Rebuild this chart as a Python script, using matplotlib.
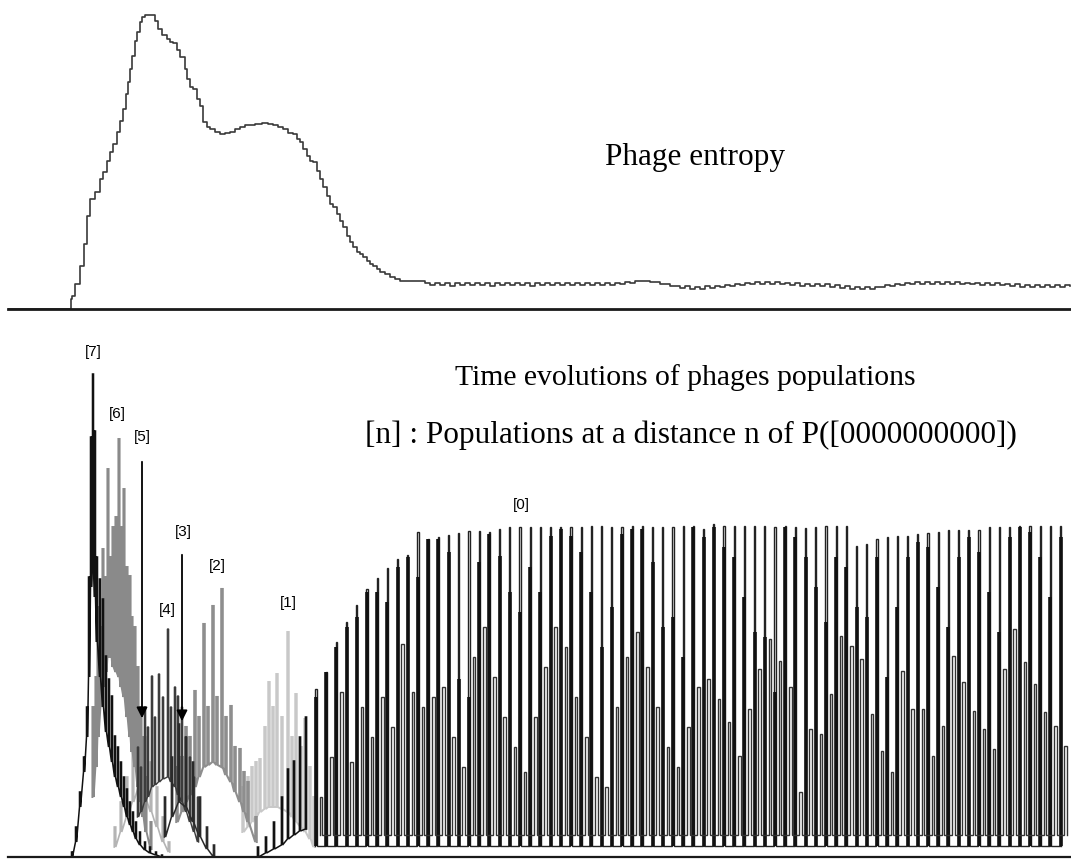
import numpy as np
import matplotlib.pyplot as plt

# ---- top panel : phage entropy (x = time, h = entropy level) ----
ent_x = [8, 70, 71, 72, 75, 80, 84, 87, 90, 95, 100, 103, 107, 110, 113, 117, 120, 123, 126, 128,
         130, 132, 135, 137, 140, 142, 145, 153, 155, 158, 162, 167, 170, 173, 177, 180, 185, 187, 190, 193,
         197, 200, 203, 207, 210, 215, 220, 225, 230, 235, 240, 245, 250, 255, 262, 268, 273, 278, 283, 288,
         293, 297, 300, 303, 307, 310, 313, 317, 320, 323, 327, 330, 333, 337, 340, 343, 347, 350, 353, 357,
         360, 363, 367, 370, 373, 377, 380, 385, 390, 395]
ent_h = [0, 0, 10, 13, 25, 43, 65, 93, 110, 117, 130, 137, 148, 157, 165, 177, 188, 200, 215, 227,
         240, 253, 268, 277, 287, 292, 294, 294, 288, 280, 274, 270, 267, 266, 259, 252, 240, 230, 222, 220,
         210, 203, 187, 182, 180, 177, 175, 176, 177, 180, 182, 184, 184, 185, 186, 185, 184, 182, 180, 176,
         175, 170, 167, 160, 153, 148, 147, 138, 130, 122, 113, 105, 102, 95, 88, 82, 73, 67, 62, 57,
         55, 52, 48, 45, 43, 40, 37, 35, 32, 30]
# flat tail, sampled every 5 time units from t=400
tail_start, tail_step = 400, 5
ent_tail = [28, 28, 28, 28, 28, 26.5, 24, 26.5, 24, 26.5, 23.5, 26, 24, 26.5, 24, 26.5, 24, 26.5, 23.5, 26,
            24, 26.5, 24.5, 26.5, 24, 26, 23.5, 26, 24, 26.5, 24, 26.5, 24.5, 26, 24, 26.5, 24, 26.5, 24.5, 26.5,
            24, 26.5, 24.5, 26.5, 25, 27, 26.5, 28.5, 28, 28.5, 27, 27.5, 25.5, 25, 23, 23.5, 21, 23, 20.5, 22.5,
            20.5, 23, 21, 23.5, 22, 24.5, 23, 25.5, 24.5, 26.5, 25, 27, 25.5, 27, 25, 27, 25, 26.5, 24, 26,
            23.5, 25.5, 23, 25.5, 23.5, 25, 22.5, 24, 21.5, 23, 20.5, 22.5, 20, 22, 20.5, 22.5, 22, 24, 23.5, 25.5,
            24.5, 26.5, 25, 27, 25, 27, 25.5, 27, 25, 27, 25.5, 27, 25, 26.5, 25, 26.5, 24.5, 26.5, 24.5, 26,
            24, 25.5, 23, 25, 22.5, 24.5, 22.5, 24.5, 22.5, 24, 22, 24, 22.5, 24, 23]
assert len(ent_x) == len(ent_h)

# ---- bottom panel : populations at distance n ----
p7_x = [72, 76, 80, 84, 87, 89, 91, 93, 95, 97, 100, 103, 106, 109, 112, 115, 118, 121, 124, 127, 130, 133, 136, 140, 145, 150, 156, 162]
p7_top = [5, 30, 65, 100, 150, 280, 420, 483, 426, 300, 278, 258, 201, 178, 161, 121, 110, 95, 80, 68, 55, 45, 35, 25, 15, 10, 5, 2]
p7_low = [0, 15, 50, 85, 120, 180, 270, 300, 260, 215, 180, 150, 125, 110, 95, 80, 70, 60, 50, 40, 32, 25, 18, 12, 7, 4, 2, 0]

p6_x = [93, 96, 98, 101, 103, 106, 108, 111, 113, 116, 119, 121, 124, 127, 130, 132, 135, 138, 141, 143, 146, 151]
p6_top = [150, 180, 250, 230, 308, 280, 388, 300, 330, 340, 418, 330, 368, 290, 281, 240, 230, 190, 150, 120, 80, 35]
p6_low = [60, 90, 120, 150, 170, 185, 200, 200, 190, 185, 180, 170, 160, 140, 120, 105, 90, 70, 55, 40, 25, 8]

p5_x = [115, 121, 127, 133, 139, 145, 151, 157, 163, 169]
p5_top = [30, 55, 80, 110, 136, 120, 95, 70, 40, 15]
p5_low = [10, 25, 40, 55, 70, 60, 45, 30, 15, 5]

p4_x = [138, 141, 145, 148, 152, 155, 159, 163, 168, 171, 175, 178, 182, 186, 190, 194, 198]
p4_top = [110, 90, 150, 130, 181, 140, 183, 160, 228, 150, 170, 161, 150, 120, 100, 80, 60]
p4_low = [40, 45, 55, 60, 70, 72, 75, 78, 80, 75, 70, 62, 55, 45, 35, 25, 15]

p3_x = [165, 172, 179, 186, 193, 200, 207, 214]
p3_top = [60, 100, 133, 120, 95, 60, 30, 12]
p3_low = [20, 40, 55, 50, 35, 20, 8, 0]

p2_x = [177, 182, 186, 190, 195, 199, 204, 208, 213, 217, 222, 226, 231, 235, 240, 244, 248, 256]
p2_top = [90, 100, 130, 120, 166, 140, 233, 150, 251, 160, 268, 140, 151, 110, 108, 85, 75, 40]
p2_low = [35, 45, 55, 62, 70, 80, 90, 92, 95, 92, 90, 82, 75, 65, 55, 45, 35, 15]

p1_x = [243, 248, 252, 256, 260, 265, 269, 273, 277, 282, 288, 292, 296, 301, 305, 310, 314]
p1_top = [70, 80, 90, 95, 98, 130, 175, 150, 183, 140, 225, 120, 163, 110, 138, 90, 60]
p1_low = [25, 30, 35, 40, 45, 48, 50, 50, 50, 48, 45, 40, 35, 30, 25, 18, 10]

p0pre_x = [258, 266, 274, 282, 288, 294, 300, 306]
p0pre_top = [10, 20, 35, 60, 88, 96, 120, 140]
p0pre_low = [0, 4, 8, 12, 18, 22, 26, 28]

# [0] oscillation: one cycle per entry, starting t=316
p0_start, p0_step = 316, 10.2
p0_peak = [168, 185, 215, 235, 252, 268, 279, 289, 298, 302,
           325, 318, 320, 322, 324, 326, 326, 325, 328, 330,
           330, 330, 330, 330, 330, 330, 330, 331, 331, 330,
           330, 331, 331, 330, 330, 330, 331, 331, 328, 333,
           331, 331, 331, 331, 331, 330, 331, 330, 329, 330,
           331, 331, 331, 311, 313, 318, 320, 321, 321, 323,
           324, 325, 327, 327, 327, 327, 330, 330, 330, 331,
           331, 331, 331, 331]
p0_dark = [160, 185, 210, 230, 240, 265, 265, 255, 290, 300,
           280, 318, 318, 305, 178, 160, 295, 323, 301, 265,
           245, 290, 265, 321, 328, 321, 305, 265, 210, 250,
           323, 328, 328, 295, 230, 240, 200, 330, 320, 330,
           310, 300, 260, 225, 220, 165, 330, 320, 300, 270,
           235, 300, 290, 250, 240, 300, 180, 250, 300, 315,
           310, 270, 230, 300, 320, 305, 265, 225, 320, 330,
           325, 300, 260, 320]
p0_open = [60, 100, 165, 95, 150, 120, 160, 130, 213, 165,
           150, 160, 170, 120, 90, 200, 230, 180, 140, 110,
           85, 140, 190, 230, 210, 160, 120, 80, 70, 150,
           200, 225, 190, 150, 110, 90, 130, 170, 178, 158,
           135, 101, 148, 188, 218, 196, 170, 65, 128, 123,
           163, 221, 211, 198, 143, 106, 85, 186, 148, 148,
           101, 131, 201, 175, 146, 128, 108, 188, 228, 195,
           173, 145, 131, 111]

labels = ['[7]', '[6]', '[5]', '[3]', '[2]', '[4]', '[1]', '[0]']
label_x = [93, 117, 142, 183, 217, 167, 288, 521]
label_y = [506, 444, 421, 326, 292, 248, 255, 353]


def spikes(ax, xs, tops, lows, w, color, lw):
    px, py = [], []
    for x, t, l in zip(xs, tops, lows):
        px += [x - w / 2, x - w / 2, x + w / 2, x + w / 2]
        py += [l, t, t, l]
    ax.plot(px, py, color=color, lw=lw, solid_joinstyle='miter')


fig = plt.figure(figsize=(10.71, 8.62), dpi=100)
fig.set_facecolor('white')

ax1 = fig.add_axes([8 / 1071, 552 / 862, 1063 / 1071, 310 / 862])
ax2 = fig.add_axes([8 / 1071, 4 / 862, 1063 / 1071, 518 / 862])

for ax in (ax1, ax2):
    ax.set_xlim(8, 1071)
    ax.set_xticks([])
    ax.set_yticks([])
    for s in ['top', 'left', 'right']:
        ax.spines[s].set_visible(False)
ax1.set_ylim(0, 310)
ax2.set_ylim(0, 518)
ax1.spines['bottom'].set_linewidth(2.0)
ax1.spines['bottom'].set_color('#1a1a1a')
ax2.spines['bottom'].set_linewidth(1.6)
ax2.spines['bottom'].set_color('#1a1a1a')

# entropy
tx = tail_start + tail_step * np.arange(len(ent_tail))
ax1.plot(list(ent_x) + list(tx), ent_h + ent_tail, drawstyle='steps-post', color='#3a3a3a', lw=1.2)
ax1.text(695, 152, 'Phage entropy', family='Liberation Serif', fontsize=22.5, ha='center', va='center')

# populations
spikes(ax2, p1_x, p1_top, p1_low, 1.5, '#c8c8c8', 1.4)
spikes(ax2, p5_x, p5_top, p5_low, 1.5, '#b4b4b4', 1.2)
spikes(ax2, p2_x, p2_top, p2_low, 1.5, '#8e8e8e', 1.5)
spikes(ax2, p6_x, p6_top, p6_low, 1.2, '#8a8a8a', 1.4)
spikes(ax2, p4_x, p4_top, p4_low, 1.2, '#3c3c3c', 1.0)
spikes(ax2, p3_x, p3_top, p3_low, 1.2, '#2a2a2a', 1.1)
spikes(ax2, p7_x, p7_top, p7_low, 1.0, '#111111', 1.1)
spikes(ax2, p0pre_x, p0pre_top, p0pre_low, 1.2, '#111111', 1.1)

x0 = p0_start + p0_step * np.arange(len(p0_peak))
spikes(ax2, x0, p0_peak, [11] * len(x0), 1.2, '#222222', 1.0)
ax2.vlines(x0, 11, p0_dark, color='#111111', lw=2.6)
spikes(ax2, x0 + 5, p0_open, [22] * len(x0), 2.6, '#333333', 1.0)

# arrows for the small populations [5] and [3]
ax2.annotate('', xy=(142, 136), xytext=(142, 398),
             arrowprops=dict(arrowstyle='-|>', color='black', lw=1.3, mutation_scale=16))
ax2.annotate('', xy=(182, 133), xytext=(182, 305),
             arrowprops=dict(arrowstyle='-|>', color='black', lw=1.3, mutation_scale=16))

for lab, lx, ly in zip(labels, label_x, label_y):
    ax2.text(lx, ly, lab, family='Liberation Sans', fontsize=11, ha='center', va='center')

ax2.text(685, 480, 'Time evolutions of phages populations', family='Liberation Serif',
         fontsize=21.3, ha='center', va='center')
ax2.text(691, 423, '[n] : Populations at a distance n of P([0000000000])', family='Liberation Serif',
         fontsize=22.5, ha='center', va='center')

fig.savefig('out.png', dpi=100)
